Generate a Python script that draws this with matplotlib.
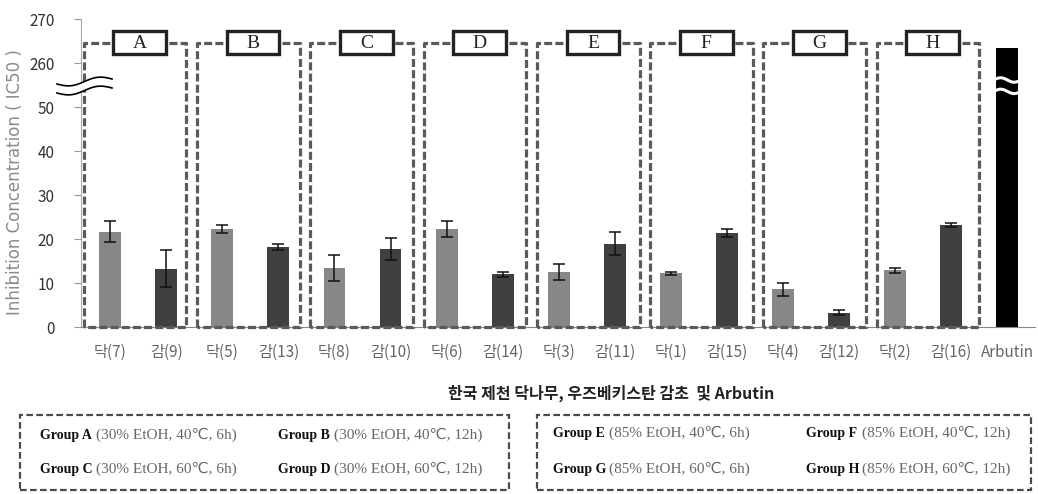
import numpy as np
import matplotlib
matplotlib.use("Agg")
import matplotlib.pyplot as plt
from matplotlib.patches import Rectangle
import matplotlib.transforms as mtransforms

plt.rcParams['font.family'] = ['Noto Sans CJK KR', 'DejaVu Sans']

# data
categories = ['닥(7)', '감(9)', '닥(5)', '감(13)', '닥(8)', '감(10)', '닥(6)', '감(14)',
              '닥(3)', '감(11)', '닥(1)', '감(15)', '닥(4)', '감(12)', '닥(2)', '감(16)', 'Arbutin']
values = [21.7, 13.2, 22.3, 18.2, 13.4, 17.7, 22.3, 12.0,
          12.6, 18.9, 12.2, 21.4, 8.6, 3.3, 12.9, 23.2, 263.5]
errors = [2.4, 4.2, 1.0, 0.7, 3.0, 2.5, 1.8, 0.6,
          1.8, 2.6, 0.4, 0.9, 1.5, 0.65, 0.6, 0.4, 0]
groups = ['A', 'B', 'C', 'D', 'E', 'F', 'G', 'H']
group_desc = ['(30% EtOH, 40℃, 6h)', '(30% EtOH, 40℃, 12h)',
              '(30% EtOH, 60℃, 6h)', '(30% EtOH, 60℃, 12h)',
              '(85% EtOH, 40℃, 6h)', '(85% EtOH, 40℃, 12h)',
              '(85% EtOH, 60℃, 6h)', '(85% EtOH, 60℃, 12h)']
yticks = [0, 10, 20, 30, 40, 50, 260, 270]


# broken y axis: 0-55 linear, 260-270 shifted down, gap squeezed
def fwd(y):
    y = np.asarray(y, dtype=float)
    return np.where(y <= 55, y, np.where(y >= 260, y - 200, 55 + (y - 55) * 5 / 205))


def inv(t):
    t = np.asarray(t, dtype=float)
    return np.where(t <= 55, t, np.where(t >= 60, t + 200, 55 + (t - 55) * 205 / 5))


fig = plt.figure(figsize=(10.38, 4.94), dpi=100)
ax = fig.add_axes([0.078, 0.338, 0.919, 0.6235])
ax.set_yscale('function', functions=(fwd, inv))

x = np.arange(len(categories))
colors = []
for c in categories:
    if c.startswith('닥'):
        colors.append('#878787')
    elif c.startswith('감'):
        colors.append('#404040')
    else:
        colors.append('#000000')

ax.bar(x, values, width=0.39, color=colors, zorder=2)
ax.errorbar(x[:-1], values[:-1], yerr=errors[:-1], fmt='none', ecolor='#111111',
            elinewidth=1.1, capsize=4, capthick=1.1, zorder=3)

ax.set_xlim(-0.52, 16.49)
ax.set_ylim(0, 270)
ax.set_yticks(yticks)
ax.set_yticklabels([str(t) for t in yticks], fontsize=11, color='#333333')
ax.set_xticks(x)
ax.set_xticklabels(categories, fontsize=11, color='#666666')
ax.tick_params(axis='x', length=0, pad=12)
ax.tick_params(axis='y', length=5, color='#999999', direction='out', pad=14)
for s in ['top', 'right']:
    ax.spines[s].set_visible(False)
ax.spines['left'].set_color('#aaaaaa')
ax.spines['bottom'].set_color('#888888')

# dashed group boxes with letter tags
trans = mtransforms.blended_transform_factory(ax.transData, ax.transAxes)
for k, g in enumerate(groups):
    left = 2 * k - 0.47 + 0.02 * k
    right = left + 1.83
    ax.plot([left, left, right, right, left], [0, 0.923, 0.923, 0, 0], transform=trans,
            color='#5a5a5a', lw=2.3, linestyle=(0, (2.5, 1.0)), clip_on=False, zorder=4)
    cx = left + 1.0
    ax.add_patch(Rectangle((cx - 0.47, 0.885), 0.94, 0.077, transform=trans,
                           facecolor='white', edgecolor='#222222', lw=2.4,
                           clip_on=False, zorder=5))
    ax.text(cx, 0.921, g, transform=trans, ha='center', va='center', fontsize=14,
            family=['Liberation Serif', 'DejaVu Serif'], color='#222222', zorder=6)

# break marks on the Arbutin bar (white) and on the y axis (black)
xb = np.linspace(-0.5, 0.5, 60)
for yb in [0.802, 0.765]:
    ax.plot(16 + xb * 0.48, yb + 0.012 * np.sin(2 * np.pi * (xb + 0.5)) * 0.6, transform=trans,
            color='white', lw=2.2, clip_on=False, zorder=6)

xf = np.linspace(0, 1, 80)
px0, px1 = 57, 112
fx = (px0 + (px1 - px0) * xf) / 1038
wave = 3 * np.sin(2 * np.pi * xf) - 5 * xf
up = 1 - (84 + wave) / 494
lo = 1 - (93 + wave) / 494
fig.patches.append(matplotlib.patches.Polygon(
    np.column_stack([np.r_[fx, fx[::-1]], np.r_[up, lo[::-1]]]),
    closed=True, transform=fig.transFigure, facecolor='white', edgecolor='none', zorder=7))
fig.lines.append(matplotlib.lines.Line2D(fx, up, transform=fig.transFigure, color='black', lw=1.2, zorder=8))
fig.lines.append(matplotlib.lines.Line2D(fx, lo, transform=fig.transFigure, color='black', lw=1.2, zorder=8))

# axis titles
fig.text(15 / 1038, 1 - 182 / 494, 'Inhibition Concentration ( IC50 )', rotation=90,
         ha='center', va='center', fontsize=12, color='#8a8a8a', family=['DejaVu Sans'])
fig.text(611 / 1038, 1 - 393 / 494, '한국 제천 닥나무, 우즈베키스탄 감초  및 Arbutin',
         ha='center', va='center', fontsize=11.5, fontweight='bold', color='#222222')

# legend boxes for the groups
for (bx0, bx1) in [(20, 509), (537, 1031)]:
    fig.patches.append(Rectangle((bx0 / 1038, 1 - 490 / 494), (bx1 - bx0) / 1038, 75 / 494,
                                 transform=fig.transFigure, facecolor='none', edgecolor='#4a4a4a',
                                 lw=1.6, linestyle=(0, (3, 1.5))))

spots = [(40, 435), (278, 435), (40, 469), (278, 469),
         (553, 433), (806, 433), (553, 469), (806, 469)]
serif = ['Liberation Serif', 'DejaVu Sans']
for (tx, ty), g, d in zip(spots, groups, group_desc):
    fig.text(tx / 1038, 1 - ty / 494, 'Group ' + g, ha='left', va='center', fontsize=10,
             family=serif, color='#111111', fontweight='bold')
    fig.text((tx + 56) / 1038, 1 - ty / 494, d, ha='left', va='center', fontsize=11,
             family=serif, color='#666666')

fig.savefig('out.png', dpi=100)
